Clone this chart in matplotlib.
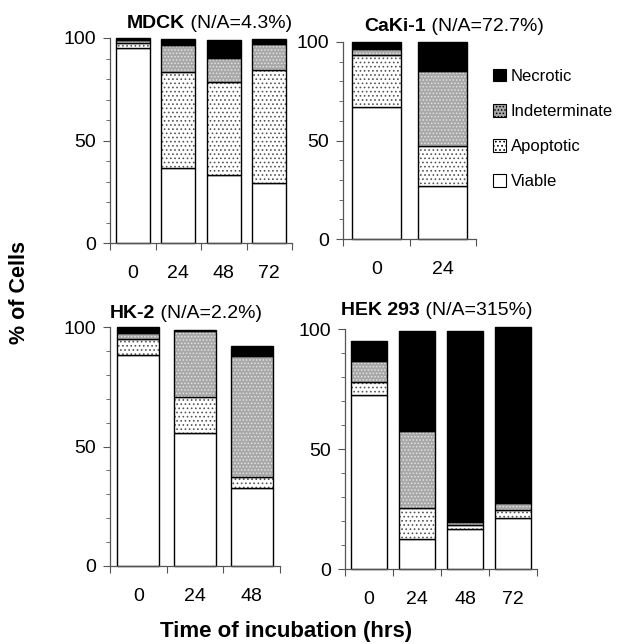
import numpy as np
import matplotlib.pyplot as plt
from matplotlib.patches import Patch

plt.rcParams['font.family'] = ['Liberation Sans', 'DejaVu Sans']
plt.rcParams['hatch.linewidth'] = 0.7

# stacked percentages per cell line: viable, apoptotic, indeterminate, necrotic
mdck_times = ['0', '24', '48', '72']
mdck_viable = [95.0, 36.6, 33.0, 29.3]
mdck_apoptotic = [2.5, 46.7, 45.4, 54.9]
mdck_indet = [1.7, 13.4, 11.8, 12.9]
mdck_necrotic = [0.8, 2.8, 8.7, 2.4]

caki_times = ['0', '24']
caki_viable = [66.8, 27.0]
caki_apoptotic = [26.5, 20.4]
caki_indet = [3.3, 37.8]
caki_necrotic = [3.4, 14.8]

hk2_times = ['0', '24', '48']
hk2_viable = [88.4, 55.6, 32.5]
hk2_apoptotic = [6.7, 15.3, 4.7]
hk2_indet = [2.4, 27.3, 50.5]
hk2_necrotic = [2.5, 0.7, 4.5]

hek_times = ['0', '24', '48', '72']
hek_viable = [72.6, 12.7, 16.7, 21.3]
hek_apoptotic = [5.3, 12.9, 1.5, 3.2]
hek_indet = [8.6, 32.1, 1.4, 3.1]
hek_necrotic = [8.3, 41.3, 79.4, 73.1]

titles = ['MDCK', 'CaKi-1', 'HK-2', 'HEK 293']
subtitles = ['(N/A=4.3%)', '(N/A=72.7%)', '(N/A=2.2%)', '(N/A=315%)']

styles = {
    'Viable': dict(color='white', hatch=None, hcolor=None),
    'Apoptotic': dict(color='white', hatch='....', hcolor='#555555'),
    'Indeterminate': dict(color='#a8a8a8', hatch='.....', hcolor='#e2e2e2'),
    'Necrotic': dict(color='black', hatch=None, hcolor=None),
}

fig = plt.figure(figsize=(6.23, 6.44), dpi=100)
W, H = 623, 644

def px_axes(x0, x1, ytop, ybot):
    return fig.add_axes([x0 / W, 1 - ybot / H, (x1 - x0) / W, (ybot - ytop) / H])

panels = [
    (px_axes(110, 292, 38, 243), mdck_times,
     [mdck_viable, mdck_apoptotic, mdck_indet, mdck_necrotic], (127, 28)),
    (px_axes(343, 476, 42, 239), caki_times,
     [caki_viable, caki_apoptotic, caki_indet, caki_necrotic], (364, 31)),
    (px_axes(110, 280, 327, 566), hk2_times,
     [hk2_viable, hk2_apoptotic, hk2_indet, hk2_necrotic], (110, 318)),
    (px_axes(345, 537, 329, 569), hek_times,
     [hek_viable, hek_apoptotic, hek_indet, hek_necrotic], (341, 315)),
]

order = ['Viable', 'Apoptotic', 'Indeterminate', 'Necrotic']
for i, (ax, times, series, tpos) in enumerate(panels):
    x = np.arange(len(times))
    bottom = np.zeros(len(times))
    for name, vals in zip(order, series):
        st = styles[name]
        ax.bar(x, vals, 0.74, bottom=bottom, color=st['color'],
               edgecolor='none', linewidth=0, clip_on=False)
        if st['hatch']:
            ax.bar(x, vals, 0.74, bottom=bottom, color='none', hatch=st['hatch'],
                   edgecolor=st['hcolor'], linewidth=0, clip_on=False)
        ax.bar(x, vals, 0.74, bottom=bottom, fill=False, edgecolor='black',
               linewidth=1.0, clip_on=False)
        bottom += np.array(vals)

    ax.set_xlim(-0.5, len(times) - 0.5)
    ax.set_ylim(0, 100)
    ax.set_yticks([0, 50, 100])
    ax.set_yticks(np.arange(0, 101, 10), minor=True)
    ax.set_xticks(np.arange(-0.5, len(times), 1.0))
    ax.set_xticklabels([])
    ax.set_xticks(x, minor=True)
    ax.set_xticklabels(times, minor=True)
    ax.tick_params(axis='x', which='minor', length=0, pad=16, labelsize=14)
    ax.tick_params(axis='x', which='major', length=5, direction='out', color='#555555')
    ax.tick_params(axis='y', which='both', direction='out', color='#555555', labelsize=14, pad=5)
    ax.tick_params(axis='y', which='major', length=5)
    ax.tick_params(axis='y', which='minor', length=3)
    for s in ['top', 'right']:
        ax.spines[s].set_visible(False)
    for s in ['left', 'bottom']:
        ax.spines[s].set_color('#555555')
        ax.spines[s].set_linewidth(0.9)

    t = fig.text(tpos[0] / W, 1 - tpos[1] / H, titles[i], fontsize=14,
                 fontweight='bold', ha='left', va='baseline')
    ax.annotate(' ' + subtitles[i], xy=(1, 0), xycoords=t, fontsize=14,
                ha='left', va='bottom', annotation_clip=False)

handles = [Patch(facecolor=styles[n]['color'], edgecolor='black', linewidth=0.8,
                 hatch=styles[n]['hatch']) for n in ['Necrotic', 'Indeterminate', 'Apoptotic', 'Viable']]
fig.legend(handles, ['Necrotic', 'Indeterminate', 'Apoptotic', 'Viable'],
           loc='upper left', bbox_to_anchor=(486 / W, 1 - 62 / H), frameon=False,
           fontsize=12, handlelength=0.8, handleheight=0.8, handletextpad=0.3,
           labelspacing=1.2, borderaxespad=0)

fig.text(20 / W, 1 - 292 / H, '% of Cells', rotation=90, fontsize=15.5,
         fontweight='bold', ha='center', va='center')
fig.text(286 / W, 1 - 632 / H, 'Time of incubation (hrs)', fontsize=16,
         fontweight='bold', ha='center', va='center')

fig.savefig('out.png', dpi=100)
